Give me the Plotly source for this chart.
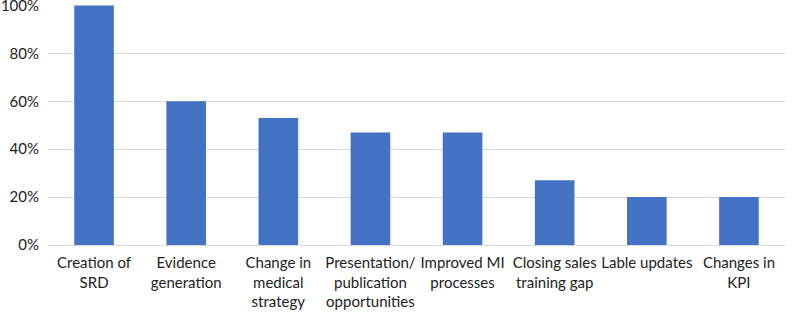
import plotly.graph_objects as go

categories = ["Creation of<br>SRD", "Evidence<br>generation", "Change in<br>medical<br>strategy",
              "Presentation/<br>publication<br>opportunities", "Improved MI<br>processes",
              "Closing sales<br>training gap", "Lable updates", "Changes in<br>KPI"]
values = [1.00, 0.60, 0.53, 0.47, 0.47, 0.27, 0.20, 0.20]
tick_vals = [0, 0.2, 0.4, 0.6, 0.8, 1.0]
tick_text = ["0%", "20%", "40%", "60%", "80%", "100%"]

fig = go.Figure(go.Bar(x=categories, y=values, marker_color="#4472C4", marker_line_width=0))
fig.update_layout(
    width=796, height=314,
    margin=dict(l=48, r=11, t=5, b=69),
    plot_bgcolor="white", paper_bgcolor="white",
    bargap=0.57,
    showlegend=False,
    font=dict(family="Lato", size=15, color="#222222"),
)
fig.update_yaxes(range=[0, 1.002], tickvals=tick_vals, ticktext=tick_text,
                 showgrid=True, gridcolor="#D9D9D9", gridwidth=1, zeroline=False,
                 showline=False, ticks="", ticklabelstandoff=8, automargin=False,
                 ticklabeloverflow="allow")
fig.update_xaxes(showline=True, linecolor="#D9D9D9", linewidth=1, ticks="", tickangle=0,
                 automargin=False, ticklabelstandoff=4, ticklabeloverflow="allow")
fig.write_html("out.html", config={"displayModeBar": False},
               post_script="document.body.style.margin='0';")
